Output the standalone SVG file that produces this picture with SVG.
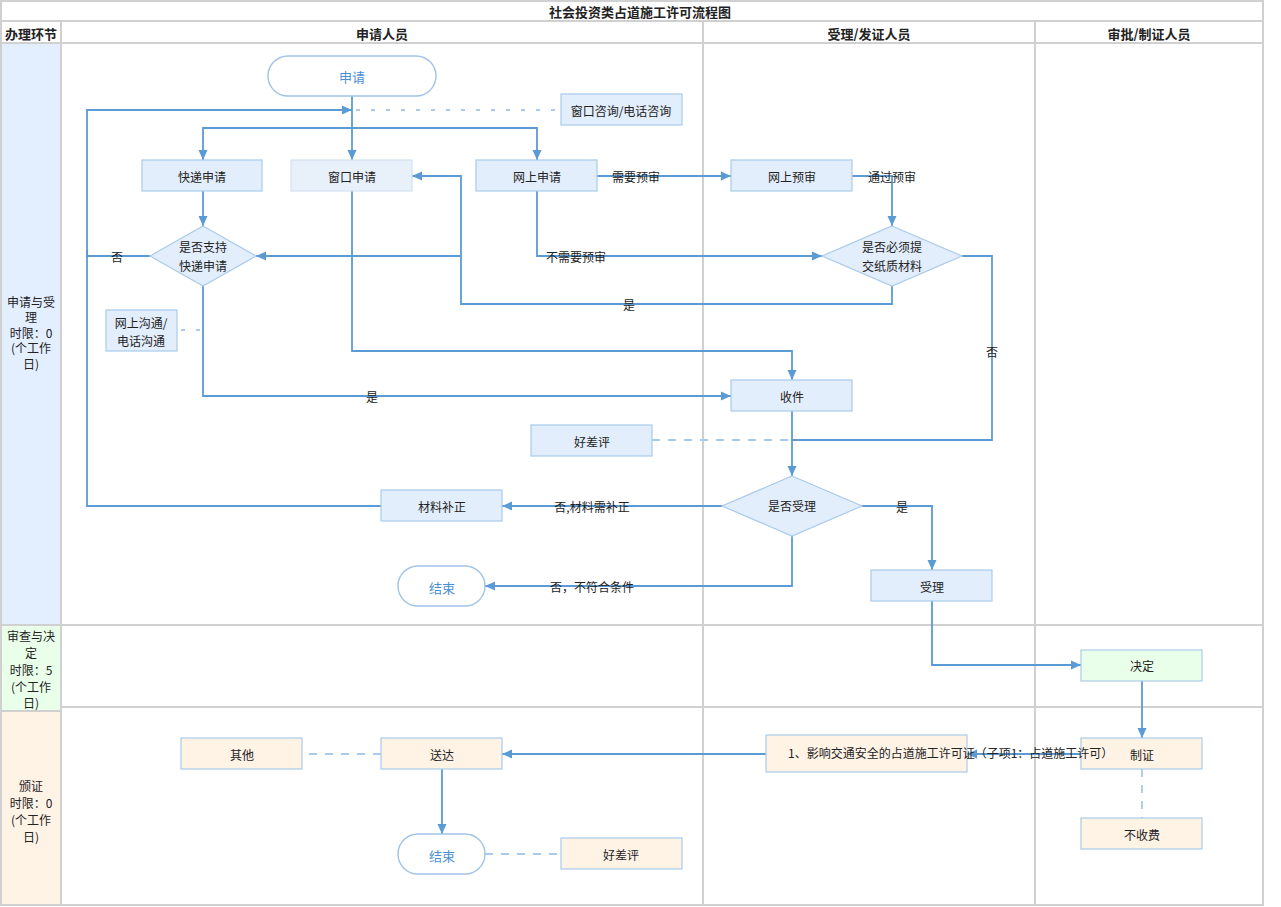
<svg xmlns="http://www.w3.org/2000/svg" width="1281" height="907" viewBox="0 0 1281 907">
<defs>
<marker id="ar" viewBox="0 0 10 10" refX="10" refY="5" markerWidth="11" markerHeight="10" markerUnits="userSpaceOnUse" orient="auto"><path d="M0,0.5 L10,5 L0,9.5 z" fill="#5b9bd5"/></marker>
<style>
text{font-family:"Noto Sans CJK SC","Liberation Sans",sans-serif;font-size:12px;fill:#222;text-anchor:middle;dominant-baseline:central}
.hd{font-weight:bold;font-size:13px}
.grid{stroke:#d0d0d0;stroke-width:2;fill:none}
.bx{fill:#e3eefc;stroke:#a9cbeb;stroke-width:1.2}
.bx2{fill:#e8f0fa;stroke:#d2e2f0;stroke-width:1.2}
.gr{fill:#eaffea;stroke:#a9cbeb;stroke-width:1.2}
.or{fill:#fff3e6;stroke:#a9cbeb;stroke-width:1.2}
.term{fill:#fff;stroke:#9ec4e8;stroke-width:1.4}
.tt{fill:#4a8fd6;font-size:13px}
.c{stroke:#5b9bd5;stroke-width:1.8;fill:none}
.ca{stroke:#5b9bd5;stroke-width:1.8;fill:none;marker-end:url(#ar)}
.d{stroke:#a9cbeb;stroke-width:1.8;fill:none;stroke-dasharray:8,8}
.d2{stroke:#a9cbeb;stroke-width:1.8;fill:none;stroke-dasharray:4,11}
</style>
</defs>
<g id="table">
<rect x="0" y="0" width="1281" height="907" fill="#fff"/>
<rect x="1" y="44" width="60" height="580" fill="#e3eeff"/>
<rect x="1" y="626" width="60" height="84" fill="#eaffea"/>
<rect x="1" y="712" width="60" height="193" fill="#fff3e6"/>
<rect x="1" y="1" width="1262" height="904" class="grid"/>
<line x1="1" y1="21" x2="1263" y2="21" class="grid"/>
<line x1="1" y1="43" x2="1263" y2="43" class="grid"/>
<line x1="61" y1="21" x2="61" y2="905" class="grid"/>
<line x1="703" y1="21" x2="703" y2="905" class="grid"/>
<line x1="1035" y1="21" x2="1035" y2="905" class="grid"/>
<line x1="1" y1="625" x2="1263" y2="625" class="grid"/>
<line x1="61" y1="707" x2="1263" y2="707" class="grid"/>
<line x1="1" y1="711" x2="61" y2="711" class="grid"/>
<text x="640" y="11" class="hd">社会投资类占道施工许可流程图</text>
<text x="31" y="33" class="hd">办理环节</text>
<text x="382" y="33" class="hd">申请人员</text>
<text x="869" y="33" class="hd">受理/发证人员</text>
<text x="1149" y="33" class="hd">审批/制证人员</text>
<text x="31" y="301">申请与受</text>
<text x="31" y="316">理</text>
<text x="31" y="332">时限：0</text>
<text x="31" y="347">(个工作</text>
<text x="31" y="363">日)</text>
<text x="31" y="635">审查与决</text>
<text x="31" y="652">定</text>
<text x="31" y="669">时限：5</text>
<text x="31" y="686">(个工作</text>
<text x="31" y="702">日)</text>
<text x="31" y="785">颁证</text>
<text x="31" y="802">时限：0</text>
<text x="31" y="819">(个工作</text>
<text x="31" y="836">日)</text>
</g>
<g id="connectors">
<path class="ca" d="M352,96 V160"/>
<path class="ca" d="M352,128 H203 V160"/>
<path class="ca" d="M352,128 H537 V160"/>
<path class="d2" d="M356,110 H561"/>
<path class="ca" d="M150,256 H87 V110 H352"/>
<path class="c" d="M381,506 H87 V250"/>
<path class="ca" d="M203,191 V226"/>
<path class="ca" d="M203,286 V396 H731"/>
<path class="d2" d="M181,330 H203"/>
<path class="ca" d="M597,176 H731"/>
<path class="ca" d="M852,176 H892 V226"/>
<path class="ca" d="M537,191 V256 H822"/>
<path class="ca" d="M892,286 V304 H461 V176 H412"/>
<path class="ca" d="M461,256 H256"/>
<path class="ca" d="M352,191 V351 H792 V380"/>
<path class="c" d="M962,256 H992 V440 H792"/>
<path class="d" d="M652,440 H790"/>
<path class="ca" d="M792,411 V476"/>
<path class="ca" d="M722,506 H502"/>
<path class="ca" d="M792,536 V586 H485"/>
<path class="ca" d="M862,506 H932 V570"/>
<path class="ca" d="M932,601 V665 H1081"/>
<path class="ca" d="M1142,681 V738"/>
<path class="ca" d="M1081,754 H967"/>
<path class="ca" d="M766,754 H502"/>
<path class="d" d="M381,754 H302"/>
<path class="ca" d="M442,769 V834"/>
<path class="d" d="M485,854 H561"/>
<path class="d" d="M1142,769 V818"/>
<text x="117" y="256">否</text>
<text x="372" y="396">是</text>
<text x="636" y="176">需要预审</text>
<text x="892" y="176">通过预审</text>
<text x="576" y="256">不需要预审</text>
<text x="629" y="304">是</text>
<text x="992" y="351">否</text>
<text x="592" y="506">否,材料需补正</text>
<text x="592" y="586">否，不符合条件</text>
<text x="902" y="506">是</text>
</g>
<g id="n-shenqing"><rect x="268" y="56" width="168" height="40" rx="20" class="term"/><text x="352" y="76" class="tt">申请</text></g>
<g id="n-zixun"><rect x="561" y="94" width="121" height="31" class="bx"/><text x="621" y="110">窗口咨询/电话咨询</text></g>
<g id="n-kuaidi"><rect x="142" y="160" width="120" height="31" class="bx"/><text x="202" y="176">快递申请</text></g>
<g id="n-chuangkou"><rect x="291" y="160" width="121" height="31" class="bx2"/><text x="352" y="176">窗口申请</text></g>
<g id="n-wangshang"><rect x="476" y="160" width="121" height="31" class="bx"/><text x="537" y="176">网上申请</text></g>
<g id="n-yushen"><rect x="731" y="160" width="121" height="31" class="bx"/><text x="792" y="176">网上预审</text></g>
<g id="n-zhichi"><path d="M203,226 L256,256 L203,286 L150,256 Z" class="bx"/><text x="203" y="246">是否支持</text><text x="203" y="265">快递申请</text></g>
<g id="n-zhizhi"><path d="M892,226 L962,256 L892,286 L822,256 Z" class="bx"/><text x="892" y="246">是否必须提</text><text x="892" y="265">交纸质材料</text></g>
<g id="n-goutong"><rect x="106" y="310" width="71" height="41" class="bx"/><text x="141" y="322">网上沟通/</text><text x="141" y="340">电话沟通</text></g>
<g id="n-shoujian"><rect x="731" y="380" width="121" height="31" class="bx"/><text x="792" y="396">收件</text></g>
<g id="n-haocha1"><rect x="531" y="425" width="121" height="31" class="bx"/><text x="592" y="441">好差评</text></g>
<g id="n-shouli-q"><path d="M792,476 L862,506 L792,536 L722,506 Z" class="bx"/><text x="792" y="505">是否受理</text></g>
<g id="n-buzheng"><rect x="381" y="490" width="121" height="31" class="bx"/><text x="442" y="506">材料补正</text></g>
<g id="n-end1"><rect x="398" y="566" width="87" height="40" rx="20" class="term"/><text x="442" y="587" class="tt">结束</text></g>
<g id="n-shouli"><rect x="871" y="570" width="121" height="31" class="bx"/><text x="932" y="586">受理</text></g>
<g id="n-jueding"><rect x="1081" y="650" width="121" height="31" class="gr"/><text x="1142" y="665">决定</text></g>
<g id="n-zhizheng"><rect x="1081" y="738" width="121" height="31" class="or"/><text x="1142" y="754">制证</text></g>
<g id="n-bushoufei"><rect x="1081" y="818" width="121" height="31" class="or"/><text x="1142" y="834">不收费</text></g>
<g id="n-xuke"><rect x="766" y="735" width="201" height="37" class="or"/><text x="788" y="752" style="text-anchor:start">1、影响交通安全的占道施工许可证（子项1：占道施工许可）</text></g>
<g id="n-songda"><rect x="381" y="738" width="121" height="31" class="or"/><text x="442" y="754">送达</text></g>
<g id="n-qita"><rect x="181" y="738" width="121" height="31" class="or"/><text x="242" y="754">其他</text></g>
<g id="n-end2"><rect x="398" y="834" width="87" height="40" rx="20" class="term"/><text x="442" y="855" class="tt">结束</text></g>
<g id="n-haocha2"><rect x="561" y="838" width="121" height="31" class="or"/><text x="621" y="854">好差评</text></g>
</svg>
